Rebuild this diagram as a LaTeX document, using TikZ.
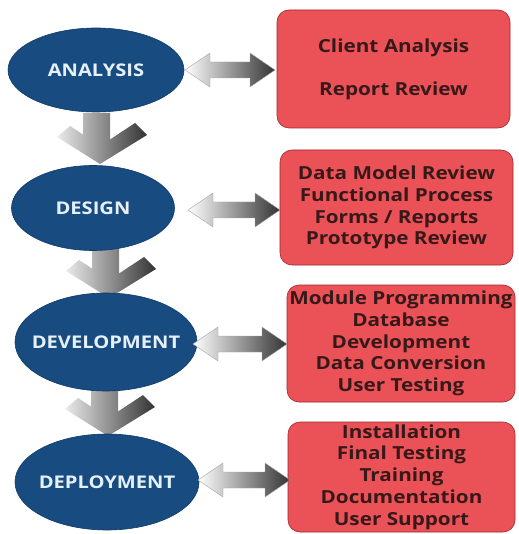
\documentclass[tikz,border=0pt]{standalone}
\usepackage{fontspec}
\setmainfont{Open Sans}
\newfontfamily\labelfont{Open Sans}[FakeStretch=1.15]
\usetikzlibrary{shapes.geometric,calc}
\definecolor{ellblue}{RGB}{24,76,128}
\definecolor{ellborder}{RGB}{16,58,102}
\definecolor{boxred}{RGB}{234,82,88}
\definecolor{boxborder}{RGB}{160,38,42}
\definecolor{boxtext}{RGB}{55,25,25}
\definecolor{elltext}{RGB}{230,240,250}
\newcommand\dblarr[2]{%
  \shade[left color=white, right color=black!80, draw=black!35, line width=0.4pt]
    (#1) -- ($(#1)+(25,-17)$) -- ($(#1)+(25,-8)$) -- ($(#2)+(-25,-8)$)
    -- ($(#2)+(-25,-17)$) -- (#2) -- ($(#2)+(-25,17)$) -- ($(#2)+(-25,8)$)
    -- ($(#1)+(25,8)$) -- ($(#1)+(25,17)$) -- cycle;}
\newcommand\chev[1]{%
  \shade[left color=black!8, middle color=black!22, right color=black!80]
    ($(#1)+(-17,-51)$) -- ($(#1)+(10,-51)$) -- ($(#1)+(10,-24.5)$)
    -- ($(#1)+(35,-41)$) -- ($(#1)+(47,-29)$) -- (#1) -- ($(#1)+(-43,-27)$)
    -- ($(#1)+(-30,-38)$) -- ($(#1)+(-17,-29.5)$) -- cycle;}
\begin{document}
\begin{tikzpicture}[x=1pt,y=-1pt,
  phase/.style={ellipse, fill=ellblue, draw=ellborder, line width=0.6pt, inner sep=0pt},
  phaselabel/.style={inner sep=0pt, text=elltext, font=\labelfont\bfseries\fontsize{17.5}{20}\selectfont},
  taskbox/.style={rectangle, rounded corners=12pt, fill=boxred, draw=boxborder, line width=0.6pt,
    inner sep=0pt, align=center, text=boxtext, font=\labelfont\bfseries\fontsize{18}{21.75}\selectfont}]
\useasboundingbox (0,0) rectangle (518,534);
% chevron tips
\coordinate (c1) at (100,164);
\coordinate (c2) at (109,298);
\coordinate (c3) at (108,436);
\chev{c1}
\chev{c2}
\chev{c3}
% phases
\node[phase, minimum width=176pt, minimum height=84pt] (ana) at (96,70) {};
\node[phase, minimum width=163pt, minimum height=85pt] (des) at (93,208) {};
\node[phase, minimum width=182pt, minimum height=98pt] (dev) at (106,342) {};
\node[phase, minimum width=184pt, minimum height=96pt] (dep) at (107,482) {};
\node[phaselabel] (anat) at (ana) {ANALYSIS};
\node[phaselabel] (dest) at (des) {DESIGN};
\node[phaselabel] (devt) at (dev) {DEVELOPMENT};
\node[phaselabel] (dept) at (dep) {DEPLOYMENT};
% task boxes
\node[taskbox, minimum width=233pt, minimum height=118pt] (b1) at (393.5,69)
  {Client Analysis\\[21.5pt]Report Review};
\node[taskbox, minimum width=233pt, minimum height=115pt] (b2) at (396.5,207.5)
  {Data Model Review\\Functional Process\\Forms / Reports\\Prototype Review};
\node[taskbox, minimum width=228pt, minimum height=117pt] (b3) at (401,343.5)
  {Module Programming\\Database\\Development\\Data Conversion\\User Testing};
\node[taskbox, minimum width=227pt, minimum height=110pt] (b4) at (401.5,477)
  {Installation\\Final Testing\\Training\\Documentation\\User Support};
% double arrows
\coordinate (l1) at (185,70);  \coordinate (r1) at (275,70);
\coordinate (l2) at (188,210); \coordinate (r2) at (280,210);
\coordinate (l3) at (193,344); \coordinate (r3) at (287,344);
\coordinate (l4) at (198,480); \coordinate (r4) at (290,480);
\dblarr{l1}{r1}
\dblarr{l2}{r2}
\dblarr{l3}{r3}
\dblarr{l4}{r4}
\end{tikzpicture}
\end{document}
